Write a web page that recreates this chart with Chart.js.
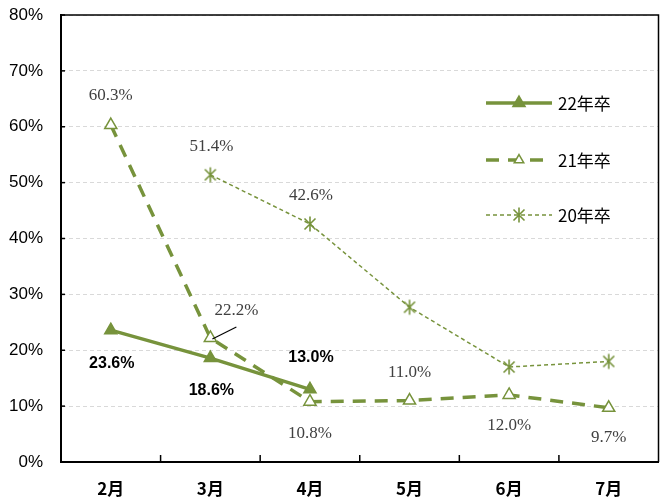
<!DOCTYPE html>
<html><head><meta charset="utf-8">
<script src="https://cdn.jsdelivr.net/npm/chart.js@4/dist/chart.umd.min.js"></script>
<style>html,body{margin:0;padding:0;background:#fff}#wrap{width:667px;height:503px}</style>
</head><body><div id="wrap"><canvas id="c"></canvas></div>
<script>
const categories = ['2月','3月','4月','5月','6月','7月'];
const yTickLabels = ['0%','10%','20%','30%','40%','50%','60%','70%','80%'];
const seriesNames = ['22年卒','21年卒','20年卒'];
const s22 = [23.6, 18.6, 13.0, null, null, null];
const s21 = [60.3, 22.2, 10.8, 11.0, 12.0, 9.7];
const s20 = [null, 51.4, 42.6, 27.7, 17.0, 18.0];
// which points carry a value label (index list per series)
const labels22 = [0,1,2];
const labels21 = [0,1,2,3,4,5];
const labels20 = [1,2];

const GREEN = '#77933C';

function starCanvas(){
  const c = document.createElement('canvas'); c.width = 18; c.height = 18;
  const x = c.getContext('2d'); x.strokeStyle = GREEN; x.lineWidth = 1.6;
  x.beginPath();
  x.moveTo(3.5,3.5); x.lineTo(14.5,14.5); x.moveTo(14.5,3.5); x.lineTo(3.5,14.5);
  x.moveTo(9,1.5); x.lineTo(9,16.5);
  x.stroke(); return c;
}
const starImg = starCanvas();

const lblOff = {
  0: {0:[1,33],1:[1,33],2:[1,-32]},
  1: {0:[0,-30],1:[26,-27],2:[0,32],3:[0,-28],4:[0,31],5:[0,30]},
  2: {1:[1,-28],2:[1,-28]}
};
const lblIdx = [labels22, labels21, labels20];

const plugin = {
  id:'custom',
  afterDraw(chart){
    const ctx = chart.ctx, a = chart.chartArea;
    const xs = chart.scales.x, ys = chart.scales.y;
    ctx.save();
    ctx.strokeStyle = '#000'; ctx.lineWidth = 1.5;
    ctx.beginPath(); ctx.moveTo(a.left, a.top); ctx.lineTo(a.right, a.top); ctx.lineTo(a.right, a.bottom); ctx.stroke();
    for(let i=1;i<categories.length;i++){
      const x = (xs.getPixelForValue(i-1)+xs.getPixelForValue(i))/2;
      ctx.beginPath(); ctx.moveTo(x, a.bottom); ctx.lineTo(x, a.bottom-7); ctx.stroke();
    }
    for(let v=0; v<=80; v+=10){
      const y = ys.getPixelForValue(v);
      ctx.beginPath(); ctx.moveTo(a.left, y); ctx.lineTo(a.left+4, y); ctx.stroke();
    }
    chart.data.datasets.forEach((ds, di)=>{
      const meta = chart.getDatasetMeta(di);
      lblIdx[di].forEach(i=>{
        const el = meta.data[i]; const o = lblOff[di][i];
        const v = ds.data[i];
        if(v==null) return;
        ctx.textAlign='center'; ctx.textBaseline='middle';
        if(di===0){ ctx.font='bold 16px "Liberation Sans"'; ctx.fillStyle='#000'; }
        else { ctx.font='17px "Liberation Serif"'; ctx.fillStyle='#404040'; }
        ctx.fillText(v.toFixed(1)+'%', el.x+o[0], el.y+o[1]);
        if(di===1 && i===1){
          ctx.strokeStyle='#000'; ctx.lineWidth=1.2;
          ctx.beginPath(); ctx.moveTo(el.x+26, el.y-11); ctx.lineTo(el.x+2, el.y+1); ctx.stroke();
        }
      });
    });
    const lx0 = 486, lx1 = 552;
    const ly = [103, 160, 215];
    chart.data.datasets.forEach((ds, di)=>{
      const y = ly[di];
      ctx.strokeStyle = ds.borderColor; ctx.lineWidth = ds.borderWidth;
      ctx.setLineDash(ds.borderDash || []);
      ctx.beginPath(); ctx.moveTo(lx0, y); ctx.lineTo(lx1, y); ctx.stroke();
      ctx.setLineDash([]);
      ctx.fillStyle = ds.pointBackgroundColor; ctx.strokeStyle = ds.pointBorderColor;
      ctx.lineWidth = ds.pointBorderWidth;
      const r = di===1 ? 5.5 : ds.pointRadius;
      Chart.helpers.drawPoint(ctx, {pointStyle: ds.pointStyle, radius: r, borderWidth: ds.pointBorderWidth, rotation:0}, (lx0+lx1)/2, y);
      ctx.font = '17px "Noto Sans CJK JP"'; ctx.fillStyle = '#000';
      ctx.textAlign='left'; ctx.textBaseline='middle';
      ctx.fillText(ds.label, 558, y+1);
    });
    ctx.restore();
  }
};

new Chart(document.getElementById('c'), {
  type:'line',
  data:{
    labels: categories,
    datasets:[
      {label: seriesNames[0], data: s22, borderColor: GREEN, borderWidth: 3.5, pointStyle:'triangle', pointRadius:7, pointBorderWidth:1.5, pointBackgroundColor: GREEN, pointBorderColor: GREEN, spanGaps:false},
      {label: seriesNames[1], data: s21, borderColor: GREEN, borderWidth: 3.5, borderDash:[13,9], pointStyle:'triangle', pointRadius:7, pointBorderWidth:1.5, pointBackgroundColor:'#fff', pointBorderColor: GREEN},
      {label: seriesNames[2], data: s20, borderColor: GREEN, borderWidth: 1.5, borderDash:[4,3], pointStyle: starImg, pointRadius:7, pointBorderWidth:1, pointBackgroundColor: GREEN, pointBorderColor: GREEN}
    ]
  },
  options:{
    responsive:true, maintainAspectRatio:false, animation:false,
    layout:{padding:{top:15,right:4,left:0,bottom:0}},
    plugins:{legend:{display:false}, tooltip:{enabled:false}},
    scales:{
      x:{
        offset:true,
        grid:{display:false, drawTicks:false},
        border:{display:true,color:'#000',width:2},
        ticks:{color:'#000', font:{family:'"Noto Sans CJK JP"', size:17, weight:'bold'}, padding:16},
        afterFit(s){ s.height = 41; s.paddingLeft = 0; s.paddingRight = 0; }
      },
      y:{
        min:0, max:80,
        grid:{color:'#d9d9d9', drawTicks:false, lineWidth:1},
        border:{display:true,color:'#000',width:2, dash:[4,3]},
        ticks:{stepSize:10, color:'#000', padding:18, font:{family:'"Liberation Sans"', size:17},
          callback:(v,i)=>yTickLabels[i]},
        afterFit(s){ s.width = 61; s.paddingTop = 0; s.paddingBottom = 0; }
      }
    }
  },
  plugins:[plugin]
});
</script></body></html>
